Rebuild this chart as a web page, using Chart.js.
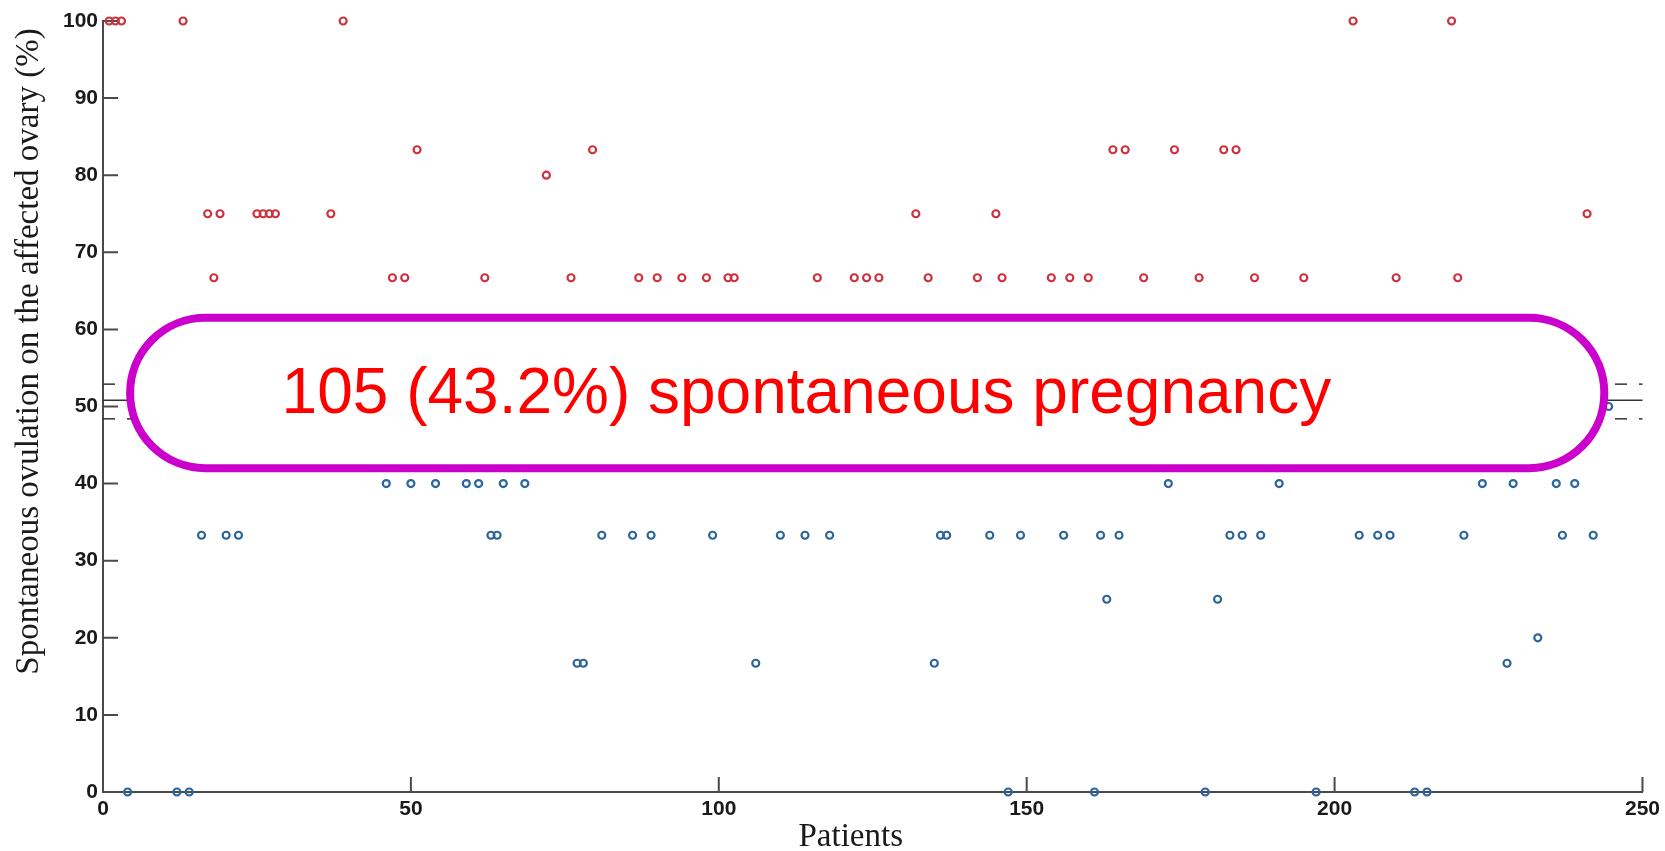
<!doctype html>
<html lang="en">
<head>
<meta charset="utf-8">
<title>Spontaneous ovulation per patient</title>
<style>
  html, body { margin: 0; padding: 0; background: #fff; }
  #wrap { width: 1665px; height: 851px; position: relative; }
</style>
</head>
<body>
<div id="wrap"><canvas id="ovChart"></canvas></div>

<script src="https://cdn.jsdelivr.net/npm/chart.js"></script>
<script>
// patients with ovulation >= 50 % on the affected side (red)
var redPatients = [1, 2, 3, 13, 39, 203, 219,
  17, 19, 25, 26, 27, 28, 37, 132, 145, 241,
  18, 47, 49, 62, 76, 87, 90, 94, 98, 101.5, 102.5, 116, 122, 124, 126, 134, 142, 146,
  154, 157, 160, 169, 178, 187, 195, 210, 220,
  51, 79.5, 164, 166, 174, 182, 184,
  72];
var redValues = [100, 100, 100, 100, 100, 100, 100,
  75, 75, 75, 75, 75, 75, 75, 75, 75, 75,
  66.7, 66.7, 66.7, 66.7, 66.7, 66.7, 66.7, 66.7, 66.7, 66.7, 66.7, 66.7, 66.7, 66.7, 66.7, 66.7, 66.7, 66.7,
  66.7, 66.7, 66.7, 66.7, 66.7, 66.7, 66.7, 66.7, 66.7,
  83.3, 83.3, 83.3, 83.3, 83.3, 83.3, 83.3,
  80];

// patients below 50 % (blue)
var bluePatients = [4, 12, 14, 147, 161, 179, 197, 213, 215,
  16, 20, 22, 63, 64, 81, 86, 89, 99, 110, 114, 118, 136, 137, 144, 149, 156, 162, 165,
  183, 185, 188, 204, 207, 209, 221, 237, 242,
  46, 50, 54, 59, 61, 65, 68.5, 173, 191, 224, 229, 236, 239,
  77, 78, 106, 135, 228,
  163, 181,
  233,
  244.5];
var blueValues = [0, 0, 0, 0, 0, 0, 0, 0, 0,
  33.3, 33.3, 33.3, 33.3, 33.3, 33.3, 33.3, 33.3, 33.3, 33.3, 33.3, 33.3, 33.3, 33.3, 33.3, 33.3, 33.3, 33.3, 33.3,
  33.3, 33.3, 33.3, 33.3, 33.3, 33.3, 33.3, 33.3, 33.3,
  40, 40, 40, 40, 40, 40, 40, 40, 40, 40, 40, 40, 40,
  16.7, 16.7, 16.7, 16.7, 16.7,
  25, 25,
  20,
  50];

// mean and confidence limits
var meanValue = 50.8;
var ciLower = 48.4;
var ciUpper = 52.9;

var xTicks = [0, 50, 100, 150, 200, 250];
var yTicks = [0, 10, 20, 30, 40, 50, 60, 70, 80, 90, 100];

var noteText = '105 (43.2%) spontaneous pregnancy';

function pts(xs, ys) {
  var out = [];
  for (var i = 0; i < xs.length; i++) out.push({x: xs[i], y: ys[i]});
  return out;
}
function hline(v) {
  return [{x: xTicks[0], y: v}, {x: xTicks[xTicks.length - 1], y: v}];
}

var axisColor = '#4a4a4a';
var tickFont = {family: 'Liberation Sans, Arial, sans-serif', size: 21, weight: 'bold'};

// inward ticks, axis titles and the highlighted note box
var decor = {
  id: 'decor',
  beforeDatasetsDraw: function(chart) {
    var ctx = chart.ctx, x = chart.scales.x, y = chart.scales.y;
    var a = chart.chartArea;
    ctx.save();
    ctx.strokeStyle = axisColor;
    ctx.lineWidth = 2;
    ctx.beginPath();
    yTicks.forEach(function(v) {
      if (v === 0) return;
      var py = y.getPixelForValue(v);
      ctx.moveTo(a.left, py);
      ctx.lineTo(a.left + 15, py);
    });
    xTicks.forEach(function(v) {
      if (v === 0) return;
      var px = x.getPixelForValue(v);
      ctx.moveTo(px, a.bottom);
      ctx.lineTo(px, a.bottom - 15);
    });
    ctx.stroke();

    ctx.fillStyle = '#1a1a1a';
    ctx.font = '33px "Liberation Serif", "Times New Roman", serif';
    ctx.textAlign = 'center';
    ctx.textBaseline = 'middle';
    ctx.fillText('Patients', (a.left + a.right) / 2 - 22, a.bottom + 45);
    ctx.translate(29, (a.top + a.bottom) / 2 - 55);
    ctx.rotate(-Math.PI / 2);
    ctx.fillText('Spontaneous ovulation on the affected ovary (%)', 0, 0);
    ctx.restore();
  },
  afterDatasetsDraw: function(chart) {
    var ctx = chart.ctx, x = chart.scales.x, y = chart.scales.y;
    var l = x.getPixelForValue(4.4), r = x.getPixelForValue(243.8);
    var t = y.getPixelForValue(61.5), b = y.getPixelForValue(42);
    var rad = (b - t) / 2;
    ctx.save();
    ctx.beginPath();
    ctx.moveTo(l + rad, t);
    ctx.lineTo(r - rad, t);
    ctx.arc(r - rad, t + rad, rad, -Math.PI / 2, Math.PI / 2);
    ctx.lineTo(l + rad, b);
    ctx.arc(l + rad, t + rad, rad, Math.PI / 2, Math.PI * 1.5);
    ctx.closePath();
    ctx.fillStyle = '#fff';
    ctx.fill();
    ctx.lineWidth = 8;
    ctx.strokeStyle = '#cc00cc';
    ctx.stroke();

    ctx.fillStyle = '#ff0000';
    ctx.font = '64px "Liberation Sans", Arial, sans-serif';
    ctx.textAlign = 'left';
    ctx.textBaseline = 'alphabetic';
    ctx.fillText(noteText, x.getPixelForValue(29), y.getPixelForValue(49.2));
    ctx.restore();
  }
};

new Chart(document.getElementById('ovChart'), {
  type: 'scatter',
  data: {
    datasets: [
      {
        data: hline(meanValue), type: 'line', showLine: true,
        borderColor: '#333', borderWidth: 1.5, pointRadius: 0, clip: false
      },
      {
        data: hline(ciUpper), type: 'line', showLine: true, borderDash: [12, 12],
        borderColor: '#333', borderWidth: 1.5, pointRadius: 0, clip: false
      },
      {
        data: hline(ciLower), type: 'line', showLine: true, borderDash: [12, 12],
        borderColor: '#333', borderWidth: 1.5, pointRadius: 0, clip: false
      },
      {
        data: pts(redPatients, redValues),
        pointRadius: 3.5, pointBorderWidth: 2.2,
        pointBorderColor: '#cc3340', pointBackgroundColor: 'rgba(0,0,0,0)', clip: false
      },
      {
        data: pts(bluePatients, blueValues),
        pointRadius: 3.5, pointBorderWidth: 2.2,
        pointBorderColor: '#2c659c', pointBackgroundColor: 'rgba(0,0,0,0)', clip: false
      }
    ]
  },
  options: {
    responsive: true,
    maintainAspectRatio: false,
    animation: false,
    events: [],
    layout: {padding: {top: 21, right: 18, left: 0, bottom: 0}},
    plugins: {legend: {display: false}, tooltip: {enabled: false}},
    scales: {
      x: {
        type: 'linear', min: 0, max: 250,
        afterFit: function(s) { s.height = 59; },
        afterBuildTicks: function(s) { s.ticks = xTicks.map(function(v) { return {value: v}; }); },
        grid: {drawOnChartArea: false, drawTicks: false},
        border: {display: true, color: axisColor, width: 2},
        ticks: {font: tickFont, color: '#1a1a1a', padding: 5, maxRotation: 0}
      },
      y: {
        type: 'linear', min: 0, max: 100,
        afterFit: function(s) { s.width = 103; },
        afterBuildTicks: function(s) { s.ticks = yTicks.map(function(v) { return {value: v}; }); },
        grid: {drawOnChartArea: false, drawTicks: false},
        border: {display: true, color: axisColor, width: 2},
        ticks: {font: tickFont, color: '#1a1a1a', padding: 5}
      }
    }
  },
  plugins: [decor]
});
</script>
</body>
</html>
